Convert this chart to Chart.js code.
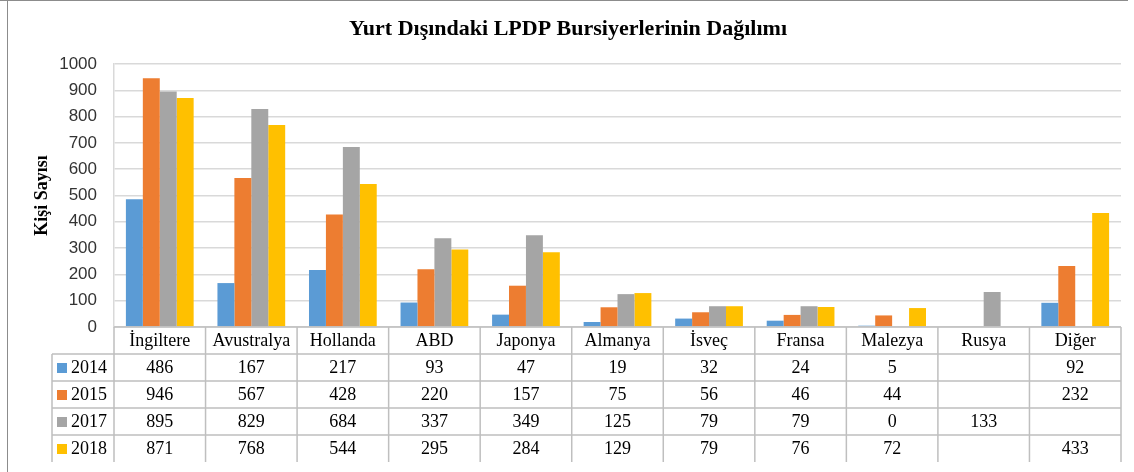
<!DOCTYPE html>
<html>
<head>
<meta charset="utf-8">
<script src="https://cdn.jsdelivr.net/npm/chart.js@4.4.1/dist/chart.umd.min.js"></script>
<style>
  html, body { margin: 0; padding: 0; background: #fff; }
  canvas { display: block; }
</style>
</head>
<body>
<canvas id="myChart" width="1134" height="472"></canvas>
<script>
// data
const categories = ['İngiltere', 'Avustralya', 'Hollanda', 'ABD', 'Japonya', 'Almanya', 'İsveç', 'Fransa', 'Malezya', 'Rusya', 'Diğer'];
const years = ['2014', '2015', '2017', '2018'];
const values2014 = [486, 167, 217, 93, 47, 19, 32, 24, 5, null, 92];
const values2015 = [946, 567, 428, 220, 157, 75, 56, 46, 44, null, 232];
const values2017 = [895, 829, 684, 337, 349, 125, 79, 79, 0, 133, null];
const values2018 = [871, 768, 544, 295, 284, 129, 79, 76, 72, null, 433];
const yTicks = [0, 100, 200, 300, 400, 500, 600, 700, 800, 900, 1000];

const chartTitle = 'Yurt Dışındaki LPDP Bursiyerlerinin Dağılımı';
const yTitle = 'Kişi Sayısı';
const barColors = ['#5B9BD5', '#ED7D31', '#A5A5A5', '#FFC000'];
const seriesValues = [values2014, values2015, values2017, values2018];

const serif = '"Liberation Serif", "Times New Roman", serif';
const lineColor = '#bfbfbf';
const rowH = 27;

// title, data table and frame drawn around the chart area
const tablePlugin = {
    id: 'dataTable',
    beforeDraw(chart) {
        const ctx = chart.ctx;
        ctx.save();
        ctx.fillStyle = '#fff';
        ctx.fillRect(0, 0, chart.width, chart.height);
        ctx.restore();
    },
    afterDraw(chart) {
        const ctx = chart.ctx;
        const area = chart.chartArea;
        const x = chart.scales.x;
        const n = categories.length;

        // column edges from the category scale
        const edges = [area.left];
        for (var i = 0; i < n - 1; i++) {
            edges.push((x.getPixelForValue(i) + x.getPixelForValue(i + 1)) / 2);
        }
        edges.push(area.right);

        const top = area.bottom;
        const legendLeft = 52;
        const bottom = top + rowH * (years.length + 1);

        ctx.save();

        // chart title
        ctx.fillStyle = '#000';
        ctx.font = 'bold 22px ' + serif;
        ctx.textAlign = 'center';
        ctx.textBaseline = 'middle';
        ctx.fillText(chartTitle, 568, 29);

        // outer frame
        ctx.strokeStyle = '#8c8c8c';
        ctx.lineWidth = 1;
        ctx.beginPath();
        ctx.moveTo(0, 0.5);
        ctx.lineTo(1128, 0.5);
        ctx.moveTo(7.5, 0);
        ctx.lineTo(7.5, chart.height);
        ctx.stroke();

        // table lines
        ctx.strokeStyle = lineColor;
        ctx.lineWidth = 1.5;
        ctx.beginPath();
        ctx.moveTo(area.left, top);
        ctx.lineTo(area.right, top);
        for (var r = 1; r <= years.length; r++) {
            ctx.moveTo(legendLeft, top + r * rowH);
            ctx.lineTo(area.right, top + r * rowH);
        }
        edges.forEach(function (ex) {
            ctx.moveTo(ex, top);
            ctx.lineTo(ex, bottom);
        });
        ctx.moveTo(legendLeft, top + rowH);
        ctx.lineTo(legendLeft, bottom);
        ctx.stroke();

        // header row
        ctx.fillStyle = '#000';
        ctx.font = '18px ' + serif;
        ctx.textAlign = 'center';
        ctx.textBaseline = 'middle';
        categories.forEach(function (c, i) {
            ctx.fillText(c, (edges[i] + edges[i + 1]) / 2, top + rowH / 2 + 1);
        });

        // series rows
        years.forEach(function (yr, s) {
            const cy = top + rowH * (s + 1) + rowH / 2 + 1;
            ctx.fillStyle = barColors[s];
            ctx.fillRect(57, cy - 5.5, 10, 10);
            ctx.fillStyle = '#000';
            ctx.textAlign = 'left';
            ctx.fillText(yr, 71, cy);
            ctx.textAlign = 'center';
            seriesValues[s].forEach(function (v, i) {
                if (v === null) return;
                ctx.fillText(String(v), (edges[i] + edges[i + 1]) / 2, cy);
            });
        });

        ctx.restore();
    }
};

new Chart('myChart', {
    type: 'bar',
    data: {
        labels: categories,
        datasets: years.map(function (yr, s) {
            return {
                label: yr,
                data: seriesValues[s],
                backgroundColor: barColors[s],
                borderWidth: 0,
                categoryPercentage: 0.74,
                barPercentage: 1.0
            };
        })
    },
    options: {
        responsive: false,
        animation: false,
        layout: { padding: { left: 30, right: 13, top: 64, bottom: 145 } },
        plugins: {
            legend: { display: false },
            title: { display: false },
            tooltip: { enabled: false }
        },
        scales: {
            x: { display: false },
            y: {
                min: 0,
                max: 1000,
                afterFit: function (scale) { scale.width = 84; },
                afterBuildTicks: function (scale) {
                    scale.ticks = yTicks.map(function (v) { return { value: v }; });
                },
                grid: { color: '#d9d9d9', lineWidth: 1.5, drawTicks: false },
                border: { display: true, color: '#d9d9d9', width: 1.5 },
                ticks: {
                    padding: 17,
                    color: '#333',
                    font: { family: '"Liberation Sans", Arial, sans-serif', size: 17 },
                    callback: function (v) { return String(v); }
                },
                title: {
                    display: true,
                    text: yTitle,
                    color: '#000',
                    padding: { top: 2, bottom: 0 },
                    font: { family: serif, size: 18, weight: 'bold' }
                }
            }
        }
    },
    plugins: [tablePlugin]
});
</script>
</body>
</html>
